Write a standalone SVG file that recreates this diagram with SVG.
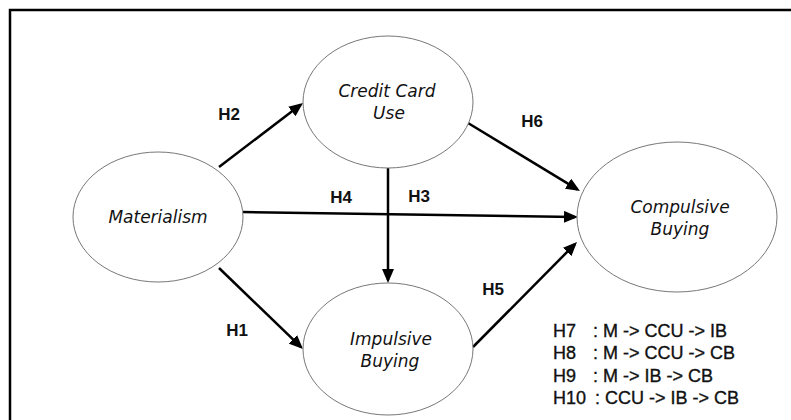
<svg xmlns="http://www.w3.org/2000/svg" width="791" height="420" viewBox="0 0 791 420">
<style>
.node ellipse{fill:#fff;stroke:#777;stroke-width:1}
.nt{font-family:"DejaVu Sans",sans-serif;font-style:italic;font-size:17px;fill:#111;text-anchor:middle}
.lab{font-family:"Liberation Sans",Arial,sans-serif;font-weight:bold;font-size:17px;fill:#111;text-anchor:middle}
.leg{font-family:"Liberation Sans",Arial,sans-serif;font-size:18px;fill:#111;stroke:#111;stroke-width:0.35}
.edge line{stroke:#000;stroke-width:2.5;marker-end:url(#ah)}
</style>
<defs>
<marker id="ah" markerUnits="userSpaceOnUse" markerWidth="14" markerHeight="12" refX="11" refY="6" orient="auto">
<path d="M0,0 L14,6 L0,12 z" fill="#000"/>
</marker>
</defs>
<rect x="0" y="0" width="791" height="420" fill="#fff"/>
<rect x="10" y="10" width="800" height="430" fill="none" stroke="#000" stroke-width="2.5"/>
<g id="connectors" class="edge">
<line x1="219" y1="167" x2="300.6" y2="104.8"/>
<line x1="468" y1="123" x2="577.4" y2="189.4"/>
<line x1="243" y1="212" x2="575" y2="217"/>
<line x1="388" y1="168" x2="388" y2="280"/>
<line x1="219" y1="268" x2="300.8" y2="346.9"/>
<line x1="473" y1="347" x2="574.9" y2="244.1"/>
</g>
<g id="labels">
<text class="lab" x="229" y="120">H2</text>
<text class="lab" x="341" y="203">H4</text>
<text class="lab" x="419" y="202">H3</text>
<text class="lab" x="532" y="127">H6</text>
<text class="lab" x="237" y="336">H1</text>
<text class="lab" x="493" y="295">H5</text>
</g>
<g id="credit-card-use" class="node">
<ellipse cx="388" cy="102" rx="85" ry="66"/>
<text class="nt" x="387" y="97">Credit Card</text>
<text class="nt" x="389" y="119">Use</text>
</g>
<g id="materialism" class="node">
<ellipse cx="158" cy="217" rx="85" ry="65"/>
<text class="nt" x="158" y="223">Materialism</text>
</g>
<g id="impulsive-buying" class="node">
<ellipse cx="388" cy="349" rx="85" ry="66"/>
<text class="nt" x="391" y="345">Impulsive</text>
<text class="nt" x="390" y="367">Buying</text>
</g>
<g id="compulsive-buying" class="node">
<ellipse cx="677" cy="217" rx="100" ry="75"/>
<text class="nt" x="680" y="213">Compulsive</text>
<text class="nt" x="680" y="235">Buying</text>
</g>
<g id="legend" class="leg">
<text x="553" y="337">H7</text><text x="593" y="337">: M -&gt; CCU -&gt; IB</text>
<text x="553" y="359">H8</text><text x="593" y="359">: M -&gt; CCU -&gt; CB</text>
<text x="553" y="382">H9</text><text x="593" y="382">: M -&gt; IB -&gt; CB</text>
<text x="553" y="404">H10</text><text x="595" y="404">: CCU -&gt; IB -&gt; CB</text>
</g>
</svg>
